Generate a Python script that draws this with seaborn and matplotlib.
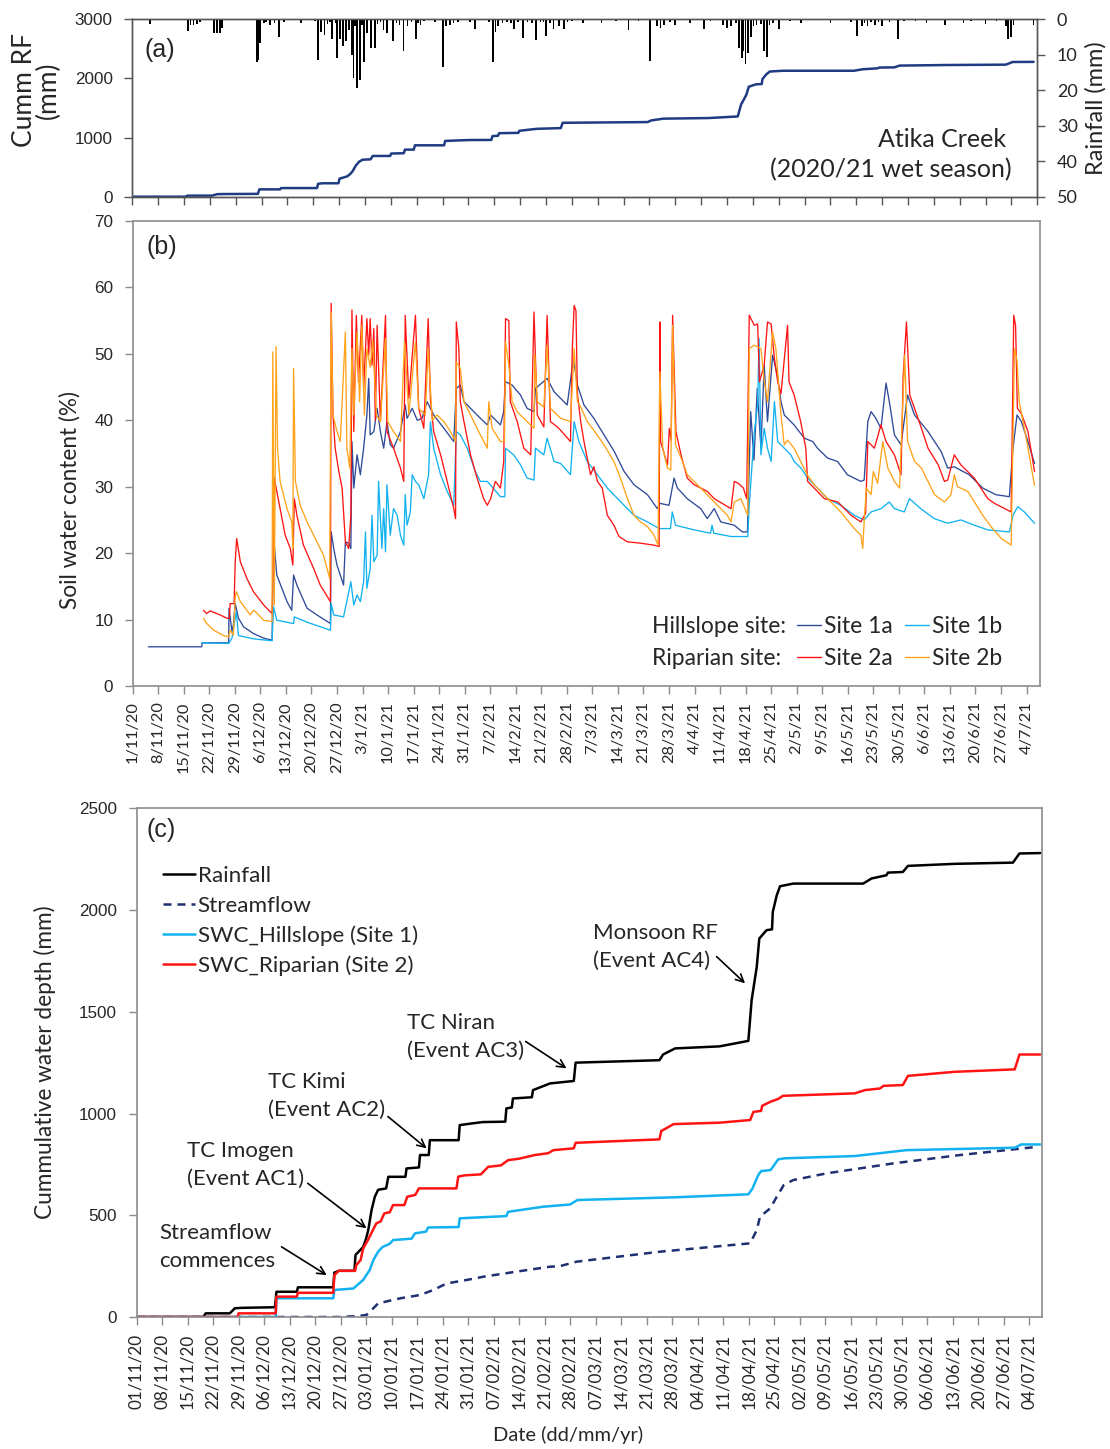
import numpy as np
import pandas as pd
import matplotlib
matplotlib.use("Agg")
import matplotlib.pyplot as plt
from matplotlib.lines import Line2D
import seaborn as sns

sns.set_theme(style="ticks")
plt.rcParams["font.family"] = ["Lato", "DejaVu Sans"]

START = pd.Timestamp("2020-11-01")

# ---------------- Panel (a): rainfall ----------------
# hanging rainfall bars (mm), day offsets from 1 Nov 2020
rain_day = [8.8, 19.0, 19.8, 20.6, 21.5, 26.1, 27.0, 27.7, 28.2, 37.7, 38.2, 38.6, 41.3, 43.8,
            49.6, 54.2, 55.0, 56.0, 58.0, 59.5, 60.3, 61.0, 61.8, 62.6, 63.4, 63.9, 64.8,
            65.6, 66.7, 67.5, 68.6, 69.7, 72.0, 73.0, 74.5, 77.4, 78.5, 80.8, 82.0, 88.1,
            89.0, 90.0, 91.0, 96.8, 101.6, 102.3, 103.0, 107.3, 109.8, 113.2, 116.0, 118.0,
            119.5, 120.9, 126.0, 131.0, 138.3, 144.1, 146.0, 147.0, 148.0, 151.0, 155.0,
            158.7, 164.0, 165.0, 166.0, 168.3, 169.0, 169.5, 170.0, 170.7, 171.5, 175.0,
            175.8, 179.0, 185.0, 193.0, 200.2, 201.5, 203.0, 205.0, 207.0, 211.3, 219.0,
            224.0, 229.0, 235.0, 240.5, 241.0, 241.8, 248.0,
            # light showers
            22.3, 39.6, 40.2, 42.5, 45.0, 53.5, 56.8, 57.5, 59.0, 64.2, 66.2, 70.4, 71.2,
            75.5, 76.3, 79.6, 81.4, 83.0, 86.0, 92.2, 95.5, 100.5, 104.2, 105.5, 106.5,
            108.5, 111.0, 112.2, 114.5, 115.3, 117.0, 121.8, 123.0, 135.0, 141.0, 149.5,
            160.5, 167.5, 172.2, 173.0, 174.2, 176.5, 177.5, 182.0, 198.5, 202.2, 204.0,
            206.0, 209.0, 213.0, 216.0, 231.0, 238.0, 242.6]
rain_mm = [1.2, 3.2, 1.5, 1.5, 1.2, 3.9, 3.9, 3.9, 2.5, 12.0, 11.5, 6.8, 1.6, 4.9,
           1.0, 11.5, 3.5, 4.5, 5.5, 11.0, 5.5, 7.5, 6.0, 3.0, 10.0, 16.5, 19.5,
           17.0, 12.0, 4.0, 8.0, 8.0, 3.0, 4.0, 6.0, 9.0, 2.0, 5.5, 1.5, 13.5,
           2.0, 1.5, 1.0, 2.6, 12.0, 3.5, 2.0, 2.6, 5.4, 5.8, 4.6, 2.6,
           2.0, 2.6, 1.0, 1.0, 3.1, 11.7, 2.0, 2.5, 1.5, 1.5, 1.0,
           2.6, 1.5, 2.5, 2.0, 8.0, 11.0, 9.0, 12.5, 9.5, 5.0, 9.0,
           10.5, 2.6, 1.0, 1.0, 4.6, 2.0, 2.0, 1.5, 2.0, 5.6, 1.0,
           1.5, 1.0, 1.2, 2.0, 5.6, 5.0, 1.5,
           0.8, 1.0, 0.8, 1.0, 0.8, 0.6, 1.2, 0.8, 1.0, 2.0, 1.5, 1.2, 0.8,
           1.0, 1.5, 0.8, 1.0, 0.6, 0.8, 0.8, 0.7, 0.8, 1.0, 0.7, 1.0,
           0.8, 0.7, 1.0, 0.8, 0.7, 1.0, 0.8, 0.6, 0.6, 0.6, 0.7,
           0.6, 1.0, 2.0, 1.5, 1.2, 1.5, 1.0, 0.6, 0.7, 1.0, 0.8,
           0.8, 0.7, 0.6, 0.6, 0.6, 0.6, 1.5]

# cumulative rainfall (mm), shared by panels (a) and (c)
cum_rf_day = [0, 18.3, 19.0, 25.6, 27.0, 29.0, 38.0, 38.4, 44.0, 44.3, 54.0, 54.3, 55.5, 59.8,
              60.1, 62.2, 63.0, 63.6, 64.5, 65.4, 66.3, 68.5, 69.1, 73.8, 74.1, 77.5, 77.8,
              80.2, 80.5, 88.4, 88.7, 91.5, 95.0, 101.2, 101.5, 103.0, 103.3, 108.5, 108.8,
              113.5, 120.0, 120.5, 143.5, 144.5, 147.8, 160.0, 167.9, 168.8, 170.2, 170.9,
              172.9, 174.4, 174.6, 175.7, 176.6, 178.0, 180.2, 199.4, 201.7, 205.8, 206.2,
              210.3, 211.7, 224.5, 240.5, 242.3, 248.0]
cum_rf_mm = [0, 0, 18, 18, 43, 45, 48, 124, 124, 146, 146, 218, 227, 227,
             305, 344, 385, 427, 525, 591, 625, 632, 689, 689, 730, 735, 796,
             796, 869, 869, 943, 950, 958, 960, 1025, 1030, 1074, 1080, 1115,
             1148, 1160, 1250, 1262, 1290, 1320, 1330, 1357, 1557, 1720, 1860,
             1901, 1905, 1990, 2073, 2117, 2122, 2130, 2130, 2155, 2171, 2184,
             2187, 2217, 2227, 2233, 2278, 2280]

# ---------------- Panel (b): soil water content (%) ----------------
swc_1a_day = [4.3, 18.9, 19.1, 26.3, 26.4, 27.2, 27.6, 28.1, 29.0, 30.4, 33.1, 35.9, 38.2, 38.6,
              39.5, 40.9, 42.3, 43.6, 44.1, 45.0, 47.8, 50.5, 54.2, 54.4, 55.1, 56.0, 56.9,
              57.8, 58.3, 59.2, 59.8, 60.1, 60.6, 61.5, 62.4, 63.3, 64.2, 64.7, 65.1, 66.1,
              67.0, 67.9, 68.8, 69.7, 70.6, 71.5, 73.4, 74.7, 75.2, 76.6, 78.0, 79.3, 80.7,
              82.5, 85.3, 88.0, 88.7, 89.8, 90.8, 92.6, 95.3, 97.2, 98.1, 100.8, 101.7, 102.2,
              104.0, 106.3, 108.1, 110.0, 110.4, 113.6, 115.5, 117.3, 119.1, 120.8, 121.9,
              123.7, 126.4, 129.2, 132.0, 134.7, 137.4, 141.1, 143.8, 144.5, 147.0, 148.4,
              149.3, 152.0, 155.7, 157.5, 159.4, 161.2, 164.9, 167.1, 168.5, 169.4, 170.3,
              171.2, 172.2, 173.1, 174.0, 175.4, 176.7, 177.7, 178.6, 181.3, 184.1, 186.4,
              187.7, 190.5, 193.2, 195.9, 199.6, 200.5, 201.5, 202.4, 203.7, 205.1, 206.5,
              207.4, 208.8, 210.6, 212.4, 214.3, 218.0, 221.6, 223.4, 225.2, 229.3, 233.0,
              236.6, 240.3, 241.3, 242.4, 243.6, 245.4, 247.2]
swc_1a_val = [5.9, 5.9, 6.5, 6.5, 11.7, 8.2, 9.2, 12.4, 10.2, 8.9, 7.9, 7.2, 6.9, 22.5,
              16.7, 14.7, 12.7, 11.4, 16.7, 15.2, 11.7, 10.7, 9.4, 23.2, 20.7, 18.2, 16.7,
              15.2, 21.7, 21.5, 20.7, 36.8, 29.8, 34.8, 31.8, 35.8, 40.8, 46.3, 37.8, 38.3,
              41.8, 38.3, 35.8, 39.8, 36.3, 35.8, 38.3, 42.3, 40.3, 41.8, 40.0, 40.3, 42.8,
              40.8, 38.8, 36.8, 44.8, 45.3, 42.8, 41.8, 40.3, 39.3, 40.8, 39.3, 41.3, 45.8,
              45.3, 43.8, 41.8, 41.3, 44.8, 46.3, 44.3, 43.3, 42.3, 49.3, 45.3,
              42.3, 40.3, 37.8, 35.3, 32.3, 30.3, 28.8, 26.7, 27.5, 27.2, 31.3,
              29.8, 28.2, 26.7, 25.2, 26.7, 24.7, 24.2, 23.2, 23.2, 41.3, 34.0,
              44.8, 35.8, 48.3, 39.8, 49.8, 46.8, 42.8, 40.8, 39.3, 37.3, 36.8,
              35.8, 34.3, 33.8, 31.8, 30.8, 31.0, 39.8, 41.3, 40.3, 38.8, 45.6,
              42.8, 37.8, 36.3, 43.8, 40.8, 38.3, 35.3, 32.8, 33.0, 31.8, 29.8,
              28.8, 28.5, 35.8, 40.8, 39.8, 36.8, 33.5]

swc_1b_day = [18.9, 26.3, 27.2, 28.4, 29.0, 33.1, 38.2, 38.6, 39.5, 44.1, 44.3, 47.8, 54.2, 54.4,
              55.1, 57.8, 59.8, 60.6, 61.5, 62.4, 63.3, 63.8, 64.2, 65.1, 65.6, 66.1, 67.0,
              67.4, 68.3, 68.8, 69.3, 69.7, 70.6, 71.5, 72.5, 73.4, 74.3, 74.7, 75.2, 76.1,
              76.6, 77.5, 78.4, 79.8, 81.1, 81.6, 82.5, 84.4, 86.2, 88.0, 88.7, 89.8, 91.7,
              93.9, 95.3, 97.2, 100.8, 102.0, 102.2, 104.4, 106.3, 108.1, 110.0, 110.4, 112.7,
              113.6, 115.5, 117.3, 120.0, 121.0, 122.3, 124.6, 127.4, 130.1, 133.8, 137.4,
              141.1, 144.3, 147.4, 147.9, 148.8, 153.9, 158.4, 158.8, 159.3, 164.0, 168.6,
              169.0, 170.4, 171.3, 171.7, 172.2, 173.1, 174.0, 175.0, 175.9, 176.8, 178.6,
              180.4, 181.3, 183.2, 185.0, 187.7, 190.5, 194.1, 197.8, 200.5, 202.4, 205.1,
              207.4, 208.8, 211.5, 212.9, 216.0, 219.7, 223.4, 227.0, 230.7, 234.4, 240.3,
              241.3, 242.6, 244.4, 247.2]
swc_1b_val = [6.5, 6.4, 7.2, 11.2, 7.6, 7.1, 6.8, 11.9, 9.9, 9.4, 10.4, 9.6, 8.4, 12.4,
              10.7, 10.4, 15.7, 12.2, 13.7, 12.7, 15.7, 23.2, 14.7, 17.7, 25.7, 18.7, 19.7,
              30.8, 20.7, 26.7, 20.2, 30.3, 22.7, 26.7, 25.7, 22.7, 21.2, 28.8, 24.2, 26.2,
              31.8, 30.8, 30.3, 28.2, 31.8, 39.8, 35.8, 31.8, 29.3, 27.2, 38.3, 37.8, 35.8,
              32.3, 30.8, 30.8, 28.5, 28.5, 35.8, 34.8, 33.3, 31.3, 31.0, 35.8, 34.8,
              37.3, 33.8, 33.5, 31.8, 39.8, 36.8, 33.8, 31.8, 29.8, 27.7, 25.7,
              24.7, 23.7, 23.7, 26.2, 24.2, 23.5, 23.0, 24.2, 23.0, 22.5, 22.5,
              27.2, 38.3, 42.3, 52.3, 34.8, 38.8, 35.8, 33.8, 42.8, 36.8, 35.8,
              34.8, 33.8, 32.8, 31.3, 29.8, 28.2, 27.2, 25.7, 25.0, 26.2, 26.7,
              27.7, 26.7, 26.2, 28.2, 26.7, 25.2, 24.5, 25.0, 24.2, 23.5, 23.2,
              25.7, 27.0, 26.2, 24.5]

swc_2a_day = [19.4, 20.3, 21.2, 24.0, 25.8, 26.5, 26.7, 27.8, 28.1, 28.5, 29.5, 31.3, 33.1, 35.9,
              38.2, 38.6, 38.8, 40.4, 41.8, 43.2, 43.9, 44.3, 45.0, 46.8, 49.6, 51.4, 54.2,
              54.4, 54.9, 55.5, 56.5, 57.4, 58.3, 59.2, 59.8, 60.1, 60.6, 61.3, 61.9, 62.8,
              63.3, 64.2, 64.7, 65.1, 65.6, 66.1, 66.5, 67.0, 67.9, 69.3, 69.7, 71.5, 73.4,
              74.3, 74.7, 75.7, 77.5, 78.4, 79.8, 81.0, 81.6, 82.5, 84.4, 86.2, 88.0, 88.5,
              88.7, 89.4, 89.8, 90.8, 92.6, 94.4, 96.2, 97.2, 98.1, 99.4, 100.8, 101.7, 102.2,
              103.1, 103.5, 105.4, 107.2, 109.1, 110.0, 110.9, 112.7, 113.6, 114.5, 116.4,
              117.3, 120.0, 120.5, 121.0, 121.5, 121.9, 122.8, 123.7, 125.5, 126.4, 127.4,
              128.7, 130.1, 131.9, 133.3, 135.6, 139.2, 142.9, 144.3, 144.5, 144.7, 146.6,
              147.1, 147.6, 148.0, 148.9, 150.3, 152.0, 153.9, 157.5, 159.4, 164.0, 164.9,
              166.0, 167.4, 168.3, 169.0, 170.4, 171.3, 171.8, 173.1, 174.0, 175.0, 175.9,
              176.8, 177.7, 179.5, 179.9, 181.3, 183.1, 184.5, 185.0, 186.8, 189.6, 193.3,
              196.9, 199.6, 200.9, 201.5, 203.3, 205.1, 206.5, 208.8, 210.6, 211.2, 212.1,
              213.0, 214.3, 216.2, 218.0, 220.8, 222.5, 223.4, 225.2, 227.0, 230.7, 234.4,
              236.2, 240.8, 241.5, 242.0, 242.5, 243.6, 245.4, 247.2]
swc_2a_val = [11.4, 10.9, 11.3, 10.7, 10.2, 10.2, 12.4, 12.4, 18.7, 22.2, 18.7, 16.2, 14.2, 12.2,
              10.9, 20.0, 31.3, 26.7, 22.7, 20.7, 18.2, 28.2, 25.7, 21.2, 17.7, 15.2, 12.7,
              57.6, 40.8, 35.8, 32.3, 29.8, 21.7, 20.7, 25.7, 56.6, 38.3, 55.8, 45.8, 55.8,
              44.8, 55.3, 49.8, 55.3, 48.3, 53.8, 40.0, 54.3, 39.8, 55.8, 38.3, 35.8, 32.8,
              30.8, 55.8, 43.3, 55.8, 41.8, 38.8, 55.3, 43.3, 38.3, 34.8, 30.8, 26.7, 25.2,
              54.8, 50.8, 42.8, 39.8, 34.8, 31.3, 28.2, 27.2, 28.2, 30.8, 29.8, 33.8, 55.3,
              55.0, 42.8, 39.8, 35.8, 34.8, 56.3, 40.8, 39.0, 55.8, 39.8, 39.0,
              38.5, 36.8, 50.8, 57.3, 56.5, 44.0, 39.8, 36.8, 31.8, 33.0, 30.8,
              29.8, 25.7, 24.2, 22.5, 21.7, 21.5, 21.2, 21.0, 54.8, 36.8, 33.3,
              38.8, 37.0, 55.8, 38.3, 34.8, 31.3, 30.3, 29.3, 28.2, 26.7, 30.8,
              30.5, 29.8, 28.2, 55.8, 54.3, 54.5, 45.8, 48.3, 54.8, 54.5, 49.3,
              45.8, 44.0, 54.3, 45.8, 43.8, 39.8, 35.8, 30.8, 29.8, 28.2, 27.7,
              25.7, 24.7, 26.0, 36.8, 35.8, 39.3, 36.8, 34.8, 31.8, 46.8, 54.8,
              43.8, 41.8, 38.8, 35.8, 33.3, 30.8, 31.0, 34.8, 33.3, 31.3, 28.2,
              27.5, 26.2, 55.8, 54.3, 41.8, 41.0, 38.3, 32.3]

swc_2b_day = [19.4, 20.3, 22.2, 24.9, 26.3, 26.7, 27.6, 28.1, 28.4, 29.5, 31.3, 32.2, 33.1, 34.0,
              35.9, 38.2, 38.4, 38.8, 39.3, 39.7, 40.4, 42.3, 43.6, 43.9, 44.1, 44.6, 45.9,
              47.8, 50.5, 52.3, 54.0, 54.4, 54.9, 56.0, 56.9, 58.3, 58.7, 59.5, 60.1, 60.6,
              61.5, 62.2, 62.8, 63.5, 64.2, 65.1, 65.8, 66.8, 67.9, 69.3, 69.9, 71.5, 73.4,
              74.5, 75.7, 77.5, 78.4, 80.2, 81.0, 82.1, 83.4, 85.3, 87.1, 88.5, 88.7, 89.8,
              90.8, 92.6, 95.3, 97.2, 97.6, 98.5, 100.8, 101.9, 102.2, 103.1, 104.0, 105.4,
              108.1, 110.0, 110.2, 110.9, 112.7, 113.6, 114.5, 117.3, 120.0, 121.0, 121.9,
              122.8, 124.6, 126.4, 129.2, 131.9, 133.7, 135.6, 137.4, 139.2, 141.1, 142.9,
              144.0, 144.5, 145.3, 146.6, 147.5, 148.0, 148.8, 150.7, 152.0, 155.7, 159.4,
              163.0, 164.0, 164.9, 166.7, 168.6, 169.0, 170.4, 172.2, 173.1, 174.0, 175.4,
              176.3, 177.7, 178.6, 179.5, 181.3, 183.1, 184.9, 186.8, 190.5, 194.1, 197.8,
              199.6, 200.1, 200.5, 201.1, 202.4, 203.0, 204.2, 205.6, 207.0, 208.8, 210.2,
              211.6, 212.4, 214.3, 216.2, 218.0, 219.8, 222.5, 224.3, 225.2, 226.1, 228.9,
              233.0, 235.7, 238.1, 240.8, 241.7, 242.4, 243.0, 244.4, 245.4, 247.2]
swc_2b_val = [10.2, 9.4, 8.4, 7.6, 7.4, 8.4, 7.7, 13.4, 14.2, 12.7, 11.4, 10.7, 11.4, 11.0,
              9.9, 9.7, 50.3, 12.2, 51.1, 35.8, 30.8, 26.7, 24.7, 20.7, 47.8, 30.8, 27.2,
              24.7, 21.7, 19.7, 16.2, 56.3, 40.8, 38.3, 36.8, 53.3, 35.8, 32.8, 50.8, 40.8,
              53.3, 42.8, 54.3, 40.8, 50.8, 48.0, 52.0, 40.8, 39.8, 52.3, 39.8, 38.3, 36.8,
              51.8, 40.8, 51.8, 41.8, 40.8, 50.8, 40.0, 40.8, 39.8, 38.3, 36.8, 48.8, 47.8,
              42.8, 40.8, 37.8, 35.8, 42.8, 38.8, 36.8, 36.8, 51.8, 48.3, 42.8, 41.3,
              39.8, 38.8, 50.0, 42.8, 42.0, 51.3, 41.8, 40.3, 39.8, 50.8, 42.8,
              42.0, 39.8, 38.5, 36.3, 33.8, 31.3, 28.2, 25.7, 24.7, 24.0, 22.7,
              21.2, 47.3, 35.8, 32.8, 32.5, 54.3, 36.3, 33.8, 31.8, 29.8, 27.7,
              25.7, 24.7, 27.7, 28.2, 25.7, 50.8, 51.3, 50.8, 46.0, 42.8, 53.3,
              50.8, 40.8, 36.3, 37.0, 35.8, 33.8, 31.8, 30.3, 28.2, 26.2, 23.7,
              22.7, 20.7, 24.7, 29.8, 28.8, 32.3, 30.5, 36.8, 32.8, 30.8, 29.8,
              49.8, 36.8, 33.8, 32.8, 30.8, 28.8, 27.7, 28.8, 31.8, 30.0, 29.3,
              25.7, 23.7, 22.2, 21.2, 50.8, 49.0, 42.8, 38.8, 35.8, 30.2]

# ---------------- Panel (c): cumulative water depth (mm) ----------------
cum_swc2_day = [0, 27.8, 28.0, 38.2, 38.4, 44.0, 44.3, 54.0, 54.3, 55.5, 60.0, 60.3, 61.5, 62.2,
                63.5, 64.5, 65.8, 67.0, 68.0, 69.5, 70.4, 73.5, 74.3, 76.5, 77.5, 87.8, 88.3,
                90.0, 94.5, 96.5, 100.0, 102.0, 105.0, 109.3, 113.0, 114.4, 120.0, 120.5, 143.5,
                144.0, 147.4, 160.0, 168.4, 169.3, 171.4, 171.7, 174.0, 176.0, 177.4, 197.1,
                199.9, 204.0, 205.0, 210.3, 211.7, 224.5, 241.0, 242.3, 248.0]
cum_swc2_mm = [0, 0, 18, 18, 100, 100, 119, 119, 206, 227, 227, 255, 280, 337,
               378, 414, 460, 470, 509, 515, 550, 550, 591, 600, 632, 632, 690,
               696, 701, 738, 745, 771, 778, 796, 805, 820, 829, 856, 873,
               914, 948, 955, 968, 1008, 1013, 1038, 1058, 1071, 1087, 1099,
               1115, 1123, 1136, 1140, 1185, 1205, 1217, 1290, 1290]

cum_swc1_day = [0, 38.2, 38.4, 54.0, 54.3, 59.5, 62.2, 64.0, 65.0, 66.3, 67.5, 69.5, 70.4, 75.5,
                76.4, 79.5, 80.0, 88.4, 88.7, 101.5, 102.0, 111.6, 119.0, 121.0, 147.4, 167.9,
                169.0, 170.6, 171.4, 174.0, 176.1, 178.0, 197.1, 211.3, 241.0, 242.8, 248.0]
cum_swc1_mm = [0, 0, 92, 92, 133, 140, 182, 231, 280, 321, 344, 360, 378, 385,
               411, 420, 440, 442, 485, 496, 517, 542, 553, 575, 588, 603,
               630, 697, 717, 722, 775, 780, 791, 820, 832, 848, 848]

cum_flow_day = [0, 55.8, 61.0, 63.1, 65.0, 66.3, 72.4, 77.8, 81.5, 85.1, 90.6, 95.2, 104.3, 113.4,
                116.2, 120.8, 143.7, 168.4, 170.2, 171.1, 173.9, 175.7, 177.6, 180.2, 189.4,
                207.7, 226.0, 247.0]
cum_flow_mm = [0, 0, 5, 10, 43, 67, 92, 108, 133, 165, 182, 198, 223, 247,
               250, 272, 321, 362, 427, 493, 534, 591, 648, 673, 706,
               755, 796, 836]

# event annotations: (text, text day, text mm, arrow start day/mm, arrow tip day/mm)
events = [
    ("Monsoon RF\n(Event AC4)", 125.3, 1817, (159.2, 1771), (167.0, 1640)),
    ("TC Niran\n(Event AC3)", 74.1, 1377, (106.8, 1354), (118.0, 1222)),
    ("TC Kimi\n(Event AC2)", 36.1, 1085, (69.0, 985), (79.6, 829)),
    ("TC Imogen\n(Event AC1)", 13.9, 748, (47.0, 657), (63.1, 436)),
    ("Streamflow\ncommences", 6.2, 345, (39.8, 345), (52.2, 206)),
]

# ---------------- styling ----------------
C_1A = "#2F4A99"
C_1B = "#12B2F0"
C_2A = "#FF1414"
C_2B = "#FFA31A"
C_CUM = "#1F3B82"
C_FLOW = "#1F2F70"
SPINE = "#8C8C8C"
NUM_FONT = ["Liberation Sans", "DejaVu Sans"]


def to_dates(days):
    return START + pd.to_timedelta(np.asarray(days, dtype=float), unit="D")


W, H = 1110, 1449
fig = plt.figure(figsize=(W / 100, H / 100), dpi=100)


def add_axes(left, top, right, bottom):
    return fig.add_axes([left / W, 1 - bottom / H, (right - left) / W, (bottom - top) / H])


ax_a = add_axes(132.3, 19.3, 1037.3, 196.7)
ax_b = add_axes(132.7, 221.0, 1040.0, 686.0)
ax_c = add_axes(136.5, 808.3, 1041.7, 1317.0)

week_ticks = pd.date_range(START, periods=36, freq="7D")

# ---- panel (a)
sns.lineplot(x=to_dates(cum_rf_day), y=cum_rf_mm, ax=ax_a, color=C_CUM, linewidth=1.8,
             estimator=None, sort=False)
ax_a.set_ylim(0, 3000)
ax_a.set_yticks([0, 1000, 2000, 3000])
a_start = START + pd.Timedelta(days=4)
ax_a.set_xlim(a_start, a_start + pd.Timedelta(days=245))
ax_a.set_xticks(pd.date_range(a_start, periods=36, freq="7D"))
ax_a.set_xticklabels([])
ax_a.set_xlabel("")
ax_a.set_ylabel("Cumm RF\n(mm)", fontsize=19, va="center", linespacing=0.95)
ax_a.yaxis.set_label_coords(-0.106, 0.6)

ax_r = ax_a.twinx()
ax_r.bar(to_dates(rain_day), rain_mm, width=0.45, color="black", linewidth=0)
ax_r.set_ylim(50, 0)
ax_r.set_yticks(range(0, 51, 10))
ax_r.set_ylabel("Rainfall (mm)", fontsize=17, va="center")
ax_r.yaxis.set_label_coords(1.0645, 0.5)

for ax in (ax_a, ax_r):
    for s in ax.spines.values():
        s.set_color("#555555")
        s.set_linewidth(1.0)
ax_a.tick_params(axis="both", direction="out", length=6, width=1, color="#555555",
                 labelsize=12.3)
ax_a.tick_params(axis="y", pad=8)
ax_r.tick_params(axis="y", direction="out", length=6, width=1, color="#555555",
                 labelsize=13, pad=8)
for lab in ax_a.get_yticklabels():
    lab.set_fontfamily(NUM_FONT)
ax_a.text(0.014, 0.827, "(a)", transform=ax_a.transAxes, fontsize=18, va="center",
          family=NUM_FONT)
ax_a.text(0.9655, 0.32, "Atika Creek", transform=ax_a.transAxes, fontsize=18,
          ha="right", va="center")
ax_a.text(0.9717, 0.15, "(2020/21 wet season)", transform=ax_a.transAxes, fontsize=18,
          ha="right", va="center")

# ---- panel (b)
swc_sets = [
    (swc_1a_day, swc_1a_val, C_1A, "Site 1a"),
    (swc_1b_day, swc_1b_val, C_1B, "Site 1b"),
    (swc_2a_day, swc_2a_val, C_2A, "Site 2a"),
    (swc_2b_day, swc_2b_val, C_2B, "Site 2b"),
]
for d, v, c, name in swc_sets:
    sns.lineplot(x=to_dates(d), y=v, ax=ax_b, color=c, linewidth=0.95,
                 estimator=None, sort=False)
ax_b.set_ylim(0, 70)
ax_b.set_yticks(range(0, 71, 10))
ax_b.set_xlim(START, START + pd.Timedelta(days=248.7))
ax_b.set_xticks(week_ticks)
ax_b.set_xticklabels([f"{d.day}/{d.month}/{d:%y}" for d in week_ticks], rotation=90)
ax_b.set_xlabel("")
ax_b.set_ylabel("Soil water content (%)", fontsize=16.3, va="center")
ax_b.yaxis.set_label_coords(-0.069, 0.4)
ax_b.text(0.0155, 0.945, "(b)", transform=ax_b.transAxes, fontsize=18, va="center",
          family=NUM_FONT)

blank = Line2D([], [], linestyle="none")
h = {name: Line2D([], [], color=c, linewidth=1.0) for _, _, c, name in swc_sets}
ax_b.legend([blank, blank, h["Site 1a"], h["Site 2a"], h["Site 1b"], h["Site 2b"]],
            ["Hillslope site:", "Riparian site:", "Site 1a", "Site 2a", "Site 1b", "Site 2b"],
            ncol=3, frameon=False, fontsize=16.5, handlelength=1.05, handletextpad=0.13,
            columnspacing=0.5, labelspacing=0.5, loc="lower right",
            bbox_to_anchor=(0.958, 0.036), borderaxespad=0, borderpad=0)

# ---- panel (c)
sns.lineplot(x=to_dates(cum_rf_day), y=cum_rf_mm, ax=ax_c, color="black", linewidth=1.8,
             estimator=None, sort=False)
sns.lineplot(x=to_dates(cum_flow_day), y=cum_flow_mm, ax=ax_c, color=C_FLOW, linewidth=1.8,
             linestyle=(0, (3.2, 2.4)), estimator=None, sort=False)
sns.lineplot(x=to_dates(cum_swc1_day), y=cum_swc1_mm, ax=ax_c, color=C_1B, linewidth=1.8,
             estimator=None, sort=False)
sns.lineplot(x=to_dates(cum_swc2_day), y=cum_swc2_mm, ax=ax_c, color=C_2A, linewidth=1.8,
             estimator=None, sort=False)
ax_c.set_ylim(0, 2500)
ax_c.set_yticks(range(0, 2501, 500))
ax_c.set_xlim(START, START + pd.Timedelta(days=248.4))
ax_c.set_xticks(week_ticks)
ax_c.set_xticklabels([d.strftime("%d/%m/%y") for d in week_ticks], rotation=90)
ax_c.set_xlabel("Date (dd/mm/yr)", fontsize=14.5, va="center")
ax_c.xaxis.set_label_coords(0.477, -0.232)
ax_c.set_ylabel("Cummulative water depth (mm)", fontsize=16.3, va="center")
ax_c.yaxis.set_label_coords(-0.101, 0.5)
ax_c.text(0.0113, 0.957, "(c)", transform=ax_c.transAxes, fontsize=18, va="center",
          family=NUM_FONT)

leg_h = [Line2D([], [], color="black", linewidth=1.8),
         Line2D([], [], color=C_FLOW, linewidth=1.8, linestyle=(0, (3.2, 2.4))),
         Line2D([], [], color=C_1B, linewidth=1.8),
         Line2D([], [], color=C_2A, linewidth=1.8)]
ax_c.legend(leg_h, ["Rainfall", "Streamflow", "SWC_Hillslope (Site 1)", "SWC_Riparian (Site 2)"],
            frameon=False, fontsize=16.2, handlelength=1.45, handletextpad=0.1,
            labelspacing=0.42, loc="upper left", bbox_to_anchor=(0.029, 0.886),
            borderaxespad=0, borderpad=0)

for text, tx, ty, start, tip in events:
    ax_c.text(to_dates([tx])[0], ty, text, fontsize=16, ha="left", va="center",
              linespacing=1.5)
    ax_c.annotate("", xy=(to_dates([tip[0]])[0], tip[1]),
                  xytext=(to_dates([start[0]])[0], start[1]),
                  arrowprops=dict(arrowstyle="->", color="black", lw=1.2,
                                  mutation_scale=14, shrinkA=0, shrinkB=0))

for ax in (ax_b, ax_c):
    for s in ax.spines.values():
        s.set_color(SPINE)
        s.set_linewidth(1.2)
    ax.tick_params(axis="both", direction="out", length=6, width=1, color=SPINE)
    ax.tick_params(axis="y", labelsize=12.3, pad=8)
    for lab in ax.get_yticklabels():
        lab.set_fontfamily(NUM_FONT)
ax_b.tick_params(axis="x", labelsize=11.8, pad=5)
ax_c.tick_params(axis="x", labelsize=12.3, pad=6)

fig.savefig("out.png", dpi=100, facecolor="white")
